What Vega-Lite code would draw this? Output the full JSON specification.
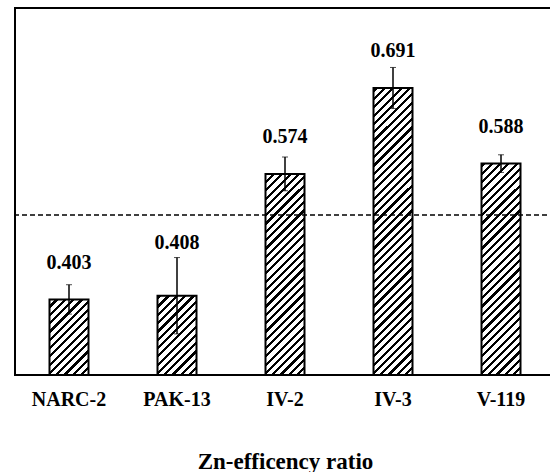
{
  "$schema": "https://vega.github.io/schema/vega-lite/v6.json",
  "width": 540,
  "height": 367,
  "autosize": "none",
  "padding": {"left": 15, "top": 8, "right": 0, "bottom": 97},
  "background": "white",
  "config": {"view": {"stroke": "black", "strokeWidth": 2}},
  "data": {"values": [
    {"cultivar": "NARC-2", "ratio": 0.403, "se": 0.020},
    {"cultivar": "PAK-13", "ratio": 0.408, "se": 0.052},
    {"cultivar": "IV-2", "ratio": 0.574, "se": 0.023},
    {"cultivar": "IV-3", "ratio": 0.691, "se": 0.028},
    {"cultivar": "V-119", "ratio": 0.588, "se": 0.012}
  ]},
  "layer": [
    {
      "mark": {"type": "bar", "width": 39, "stroke": null, "fill": {"gradient": "linear", "x1": 0, "y1": 0, "x2": 0.1476, "y2": 1.11118, "stops": [
        {"offset":0,"color":"#000"},{"offset":0.0095,"color":"#000"},{"offset":0.0095,"color":"#fff"},{"offset":0.025,"color":"#fff"},
        {"offset":0.025,"color":"#000"},{"offset":0.0345,"color":"#000"},{"offset":0.0345,"color":"#fff"},{"offset":0.05,"color":"#fff"},
        {"offset":0.05,"color":"#000"},{"offset":0.0595,"color":"#000"},{"offset":0.0595,"color":"#fff"},{"offset":0.075,"color":"#fff"},
        {"offset":0.075,"color":"#000"},{"offset":0.0845,"color":"#000"},{"offset":0.0845,"color":"#fff"},{"offset":0.1,"color":"#fff"},
        {"offset":0.1,"color":"#000"},{"offset":0.1095,"color":"#000"},{"offset":0.1095,"color":"#fff"},{"offset":0.125,"color":"#fff"},
        {"offset":0.125,"color":"#000"},{"offset":0.1345,"color":"#000"},{"offset":0.1345,"color":"#fff"},{"offset":0.15,"color":"#fff"},
        {"offset":0.15,"color":"#000"},{"offset":0.1595,"color":"#000"},{"offset":0.1595,"color":"#fff"},{"offset":0.175,"color":"#fff"},
        {"offset":0.175,"color":"#000"},{"offset":0.1845,"color":"#000"},{"offset":0.1845,"color":"#fff"},{"offset":0.2,"color":"#fff"},
        {"offset":0.2,"color":"#000"},{"offset":0.2095,"color":"#000"},{"offset":0.2095,"color":"#fff"},{"offset":0.225,"color":"#fff"},
        {"offset":0.225,"color":"#000"},{"offset":0.2345,"color":"#000"},{"offset":0.2345,"color":"#fff"},{"offset":0.25,"color":"#fff"},
        {"offset":0.25,"color":"#000"},{"offset":0.2595,"color":"#000"},{"offset":0.2595,"color":"#fff"},{"offset":0.275,"color":"#fff"},
        {"offset":0.275,"color":"#000"},{"offset":0.2845,"color":"#000"},{"offset":0.2845,"color":"#fff"},{"offset":0.3,"color":"#fff"},
        {"offset":0.3,"color":"#000"},{"offset":0.3095,"color":"#000"},{"offset":0.3095,"color":"#fff"},{"offset":0.325,"color":"#fff"},
        {"offset":0.325,"color":"#000"},{"offset":0.3345,"color":"#000"},{"offset":0.3345,"color":"#fff"},{"offset":0.35,"color":"#fff"},
        {"offset":0.35,"color":"#000"},{"offset":0.3595,"color":"#000"},{"offset":0.3595,"color":"#fff"},{"offset":0.375,"color":"#fff"},
        {"offset":0.375,"color":"#000"},{"offset":0.3845,"color":"#000"},{"offset":0.3845,"color":"#fff"},{"offset":0.4,"color":"#fff"},
        {"offset":0.4,"color":"#000"},{"offset":0.4095,"color":"#000"},{"offset":0.4095,"color":"#fff"},{"offset":0.425,"color":"#fff"},
        {"offset":0.425,"color":"#000"},{"offset":0.4345,"color":"#000"},{"offset":0.4345,"color":"#fff"},{"offset":0.45,"color":"#fff"},
        {"offset":0.45,"color":"#000"},{"offset":0.4595,"color":"#000"},{"offset":0.4595,"color":"#fff"},{"offset":0.475,"color":"#fff"},
        {"offset":0.475,"color":"#000"},{"offset":0.4845,"color":"#000"},{"offset":0.4845,"color":"#fff"},{"offset":0.5,"color":"#fff"},
        {"offset":0.5,"color":"#000"},{"offset":0.5095,"color":"#000"},{"offset":0.5095,"color":"#fff"},{"offset":0.525,"color":"#fff"},
        {"offset":0.525,"color":"#000"},{"offset":0.5345,"color":"#000"},{"offset":0.5345,"color":"#fff"},{"offset":0.55,"color":"#fff"},
        {"offset":0.55,"color":"#000"},{"offset":0.5595,"color":"#000"},{"offset":0.5595,"color":"#fff"},{"offset":0.575,"color":"#fff"},
        {"offset":0.575,"color":"#000"},{"offset":0.5845,"color":"#000"},{"offset":0.5845,"color":"#fff"},{"offset":0.6,"color":"#fff"},
        {"offset":0.6,"color":"#000"},{"offset":0.6095,"color":"#000"},{"offset":0.6095,"color":"#fff"},{"offset":0.625,"color":"#fff"},
        {"offset":0.625,"color":"#000"},{"offset":0.6345,"color":"#000"},{"offset":0.6345,"color":"#fff"},{"offset":0.65,"color":"#fff"},
        {"offset":0.65,"color":"#000"},{"offset":0.6595,"color":"#000"},{"offset":0.6595,"color":"#fff"},{"offset":0.675,"color":"#fff"},
        {"offset":0.675,"color":"#000"},{"offset":0.6845,"color":"#000"},{"offset":0.6845,"color":"#fff"},{"offset":0.7,"color":"#fff"},
        {"offset":0.7,"color":"#000"},{"offset":0.7095,"color":"#000"},{"offset":0.7095,"color":"#fff"},{"offset":0.725,"color":"#fff"},
        {"offset":0.725,"color":"#000"},{"offset":0.7345,"color":"#000"},{"offset":0.7345,"color":"#fff"},{"offset":0.75,"color":"#fff"},
        {"offset":0.75,"color":"#000"},{"offset":0.7595,"color":"#000"},{"offset":0.7595,"color":"#fff"},{"offset":0.775,"color":"#fff"},
        {"offset":0.775,"color":"#000"},{"offset":0.7845,"color":"#000"},{"offset":0.7845,"color":"#fff"},{"offset":0.8,"color":"#fff"},
        {"offset":0.8,"color":"#000"},{"offset":0.8095,"color":"#000"},{"offset":0.8095,"color":"#fff"},{"offset":0.825,"color":"#fff"},
        {"offset":0.825,"color":"#000"},{"offset":0.8345,"color":"#000"},{"offset":0.8345,"color":"#fff"},{"offset":0.85,"color":"#fff"},
        {"offset":0.85,"color":"#000"},{"offset":0.8595,"color":"#000"},{"offset":0.8595,"color":"#fff"},{"offset":0.875,"color":"#fff"},
        {"offset":0.875,"color":"#000"},{"offset":0.8845,"color":"#000"},{"offset":0.8845,"color":"#fff"},{"offset":0.9,"color":"#fff"},
        {"offset":0.9,"color":"#000"},{"offset":0.9095,"color":"#000"},{"offset":0.9095,"color":"#fff"},{"offset":0.925,"color":"#fff"},
        {"offset":0.925,"color":"#000"},{"offset":0.9345,"color":"#000"},{"offset":0.9345,"color":"#fff"},{"offset":0.95,"color":"#fff"},
        {"offset":0.95,"color":"#000"},{"offset":0.9595,"color":"#000"},{"offset":0.9595,"color":"#fff"},{"offset":0.975,"color":"#fff"},
        {"offset":0.975,"color":"#000"},{"offset":0.9845,"color":"#000"},{"offset":0.9845,"color":"#fff"},{"offset":1,"color":"#fff"}
      ]}},
      "encoding": {
        "x": {"field": "cultivar", "type": "nominal",
          "scale": {"domain": ["NARC-2", "PAK-13", "IV-2", "IV-3", "V-119"], "paddingInner": 0.6204, "paddingOuter": 0.3102},
          "axis": {"title": "Zn-efficency ratio", "titleFont": "Liberation Serif", "titleFontWeight": "bold", "titleFontSize": 23, "titleColor": "black", "titleY": 93, "titleBaseline": "alphabetic",
                   "labelFont": "Liberation Serif", "labelFontWeight": "bold", "labelFontSize": 20, "labelColor": "black", "labelPadding": 14, "labelAngle": 0, "ticks": false, "domain": false, "grid": false}},
        "y": {"datum": 0.7, "type": "quantitative", "scale": {"domain": [0.3, 0.8], "zero": false, "nice": false}, "axis": null},
        "y2": {"datum": 0.3}
      }
    },
    {
      "mark": {"type": "bar", "width": 43, "fill": "white", "stroke": null},
      "encoding": {
        "x": {"field": "cultivar", "type": "nominal"},
        "y": {"field": "ratio", "type": "quantitative", "axis": null},
        "y2": {"datum": 0.705}
      }
    },
    {
      "mark": {"type": "bar", "width": 39, "fill": "transparent", "stroke": "black", "strokeWidth": 2},
      "encoding": {
        "x": {"field": "cultivar", "type": "nominal"},
        "y": {"field": "ratio", "type": "quantitative", "axis": null},
        "y2": {"datum": 0.3}
      }
    },
    {
      "mark": {"type": "errorbar", "color": "black", "ticks": {"size": 6, "strokeWidth": 1.5, "color": "black"}, "rule": {"strokeWidth": 1.5, "color": "black"}},
      "encoding": {
        "x": {"field": "cultivar", "type": "nominal"},
        "y": {"field": "ratio", "type": "quantitative", "axis": null},
        "yError": {"field": "se"}
      }
    },
    {
      "data": {"values": [{"threshold": 0.518}]},
      "mark": {"type": "rule", "color": "black", "strokeWidth": 1.5, "strokeDash": [5, 3]},
      "encoding": {
        "y": {"field": "threshold", "type": "quantitative", "axis": null}
      }
    },
    {
      "transform": [{"calculate": "max(datum.ratio + 0.05, datum.ratio + datum.se + 0.02)", "as": "labelPos"}],
      "mark": {"type": "text", "font": "Liberation Serif", "fontWeight": "bold", "fontSize": 20, "baseline": "middle", "color": "black"},
      "encoding": {
        "x": {"field": "cultivar", "type": "nominal"},
        "y": {"field": "labelPos", "type": "quantitative", "axis": null},
        "text": {"field": "ratio", "type": "quantitative", "format": ".3f"}
      }
    }
  ]
}
